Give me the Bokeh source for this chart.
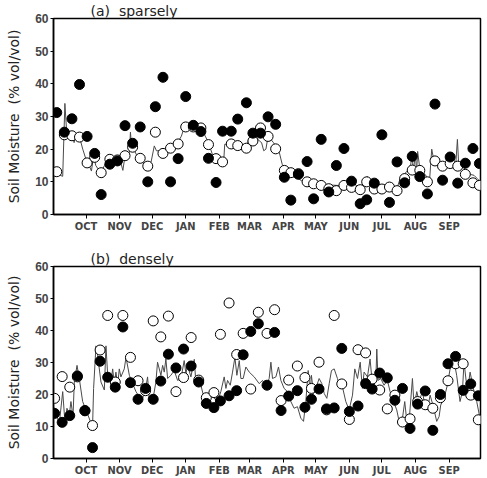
from bokeh.plotting import figure
from bokeh.layouts import column
from bokeh.models import FixedTicker, Title, Range1d
from bokeh.embed import file_html
from bokeh.resources import INLINE

# x values: days since 1 September
month_ticks = [30, 61, 91, 122, 153, 181, 212, 242, 273, 303, 334, 365]
month_labels = ["OCT", "NOV", "DEC", "JAN", "FEB", "MAR", "APR", "MAY", "JUN", "JUL", "AUG", "SEP"]

# ---------------- (a) sparsely ----------------
sp_obs_day = [3, 10, 17, 24, 31, 38, 44, 52, 59, 66, 73, 80, 87, 94, 101, 108, 115, 122, 129, 136,
              143, 150, 156, 164, 170, 178, 184, 191, 198, 205, 213, 219, 226, 234, 240, 247, 254, 261, 268, 275,
              283, 289, 296, 303, 310, 317, 324, 331, 338, 345, 352, 359, 366, 373, 380, 387, 393]
sp_filled = [31.2, 25.2, 29.3, 39.8, 23.9, 18.7, 6.1, 15.4, 16.4, 27.2, 21.8, 26.8, 10.0, 33.0, 42.0, 10.0, 17.1, 36.1, 27.3, 25.4,
             17.2, 9.8, 25.5, 25.5, 29.2, 34.2, 24.9, 24.9, 29.9, 27.6, 11.4, 4.4, 12.3, 16.2, 4.8, 23.0, 6.9, 15.0, 20.2, 10.2,
             3.3, 4.5, 9.6, 24.4, 3.7, 16.1, 9.7, 17.8, 11.6, 6.3, 33.8, 10.5, 17.6, 9.6, 15.7, 20.2, 15.6]
sp_open = [13.1, 24.4, 24.1, 23.7, 15.8, 17.5, 12.8, 16.9, 16.7, 18.0, 20.6, 17.2, 14.8, 25.2, 18.7, 20.3, 21.6, 26.8, 26.8, 26.5,
           21.4, 17.1, 16.1, 21.6, 21.1, 20.3, 22.5, 26.5, 23.9, 20.1, 13.5, 12.8, 12.5, 10.0, 9.4, 8.9, 7.9, 7.3, 8.9, 8.3,
           7.6, 10.0, 7.8, 7.8, 8.4, 7.3, 11.0, 13.6, 13.5, 10.0, 16.4, 14.8, 15.6, 14.8, 12.3, 9.7, 8.9]
sp_line_day = [0, 2, 4, 6, 8.5, 10.5, 12, 14, 16, 17, 18, 19, 20, 22, 24, 27, 31, 33, 35, 37, 39, 41, 44, 47, 50, 53, 56, 59,
               62, 64, 66, 68, 70, 71, 72, 74, 77, 80, 82, 87, 90, 93, 95, 99, 103, 106, 110, 114, 118, 121, 125, 129, 133,
               136, 140, 143, 147, 150, 155, 157, 158, 163, 166, 170, 173, 176, 179, 180, 181, 184, 187, 190, 192, 194, 196,
               198, 203, 208, 211, 214, 219, 225, 229, 234, 247, 262, 273, 276, 278, 285, 289.5, 291, 296, 304, 310, 317,
               320, 324, 327, 329.6, 331, 332, 334, 335, 336, 338, 341, 347, 349, 351, 355, 358, 364, 371, 372.7, 374, 377,
               382, 388, 391, 394]
sp_line = [13.3, 14.5, 12.5, 12.0, 11.7, 34.0, 26.0, 24.5, 25.0, 22.5, 24.0, 22.0, 24.0, 24.0, 23.7, 20.0, 15.8, 15.0, 13.3,
           18.0, 15.0, 14.0, 12.8, 15.0, 17.0, 16.5, 17.0, 16.7, 16.0, 13.5, 18.0, 17.0, 19.0, 25.2, 21.0, 20.0, 18.0, 17.2,
           16.0, 15.0, 16.0, 21.0, 19.5, 19.5, 19.3, 20.0, 21.0, 21.6, 24.0, 27.0, 27.2, 27.5, 27.0, 26.5, 24.0, 22.0, 18.0,
           17.0, 15.2, 16.0, 21.5, 21.5, 21.0, 20.0, 20.0, 19.5, 21.5, 23.0, 21.5, 23.0, 23.6, 22.5, 22.0, 19.5, 20.0, 24.0,
           22.0, 19.5, 15.4, 13.5, 11.7, 11.2, 10.3, 9.7, 9.2, 8.9, 9.0, 10.0, 8.0, 9.0, 11.7, 9.0, 8.0, 9.0, 9.0, 8.0,
           11.2, 12.5, 13.5, 15.4, 18.0, 13.0, 19.0, 12.5, 19.3, 14.0, 13.0, 10.5, 20.0, 16.5, 15.5, 14.5, 15.5, 14.5, 23.0,
           14.5, 15.5, 12.5, 12.0, 11.0, 10.0]

# ---------------- (b) densely ----------------
de_obs_day = [1, 8, 15, 22, 29, 36, 43, 50, 57, 64, 71, 78, 85, 92, 99, 106, 113, 120, 127, 134,
              141, 148, 154, 162, 169, 175, 182, 189, 197, 204, 210, 217, 225, 232, 238, 245, 252, 259, 266, 273,
              281, 288, 294, 301, 308, 315, 322, 329, 336, 343, 350, 357, 364, 371, 378, 385, 392]
de_filled = [14.1, 11.3, 13.4, 25.8, 14.9, 3.4, 30.4, 25.4, 22.3, 41.1, 23.7, 18.5, 21.9, 18.5, 24.2, 32.6, 28.3, 34.2, 28.9, 23.9,
             17.2, 15.9, 18.0, 19.6, 21.2, 32.4, 39.7, 42.1, 22.9, 39.4, 15.0, 19.5, 21.2, 16.0, 18.5, 21.7, 15.5, 15.8, 34.4, 14.7,
             16.4, 23.4, 21.7, 26.7, 25.2, 18.2, 21.9, 9.4, 17.0, 21.1, 8.8, 20.0, 29.6, 31.9, 21.3, 23.3, 19.6]
de_open = [18.8, 25.6, 22.3, 25.5, 15.0, 10.3, 33.9, 44.7, 23.9, 44.7, 31.6, 24.3, 21.2, 43.0, 38.0, 44.5, 20.9, 25.3, 37.8, 24.5,
           19.0, 20.6, 38.8, 48.6, 32.5, 39.1, 21.7, 45.7, 39.1, 46.5, 18.1, 24.5, 28.9, 25.3, 21.9, 30.1, 15.2, 44.7, 23.3, 12.2,
           34.0, 33.0, 24.8, 21.4, 15.5, 19.8, 11.4, 12.4, 17.8, 16.8, 15.7, 19.0, 24.3, 29.6, 29.6, 19.8, 12.1]
de_line_day = [0, 5.4, 8.5, 10.6, 12.4, 14.6, 16.1, 18, 19.2, 21.7, 23.8, 26.9, 30, 34, 36.1, 37, 39.2, 40.7, 43.8, 46.9,
               48.4, 50, 53, 54.6, 56.1, 57.6, 59.2, 60.7, 62.2, 65.3, 66.9, 70, 73, 76.1, 79.1, 82.2, 85.3, 86.8, 88.4,
               91.4, 94.5, 96, 99.1, 100.7, 102.2, 103.7, 105.3, 108.3, 111.4, 114.5, 117.6, 120.6, 122.2, 123.7, 126.8,
               129.9, 131, 133, 136, 139, 142.2, 145.2, 151.4, 154.4, 157.5, 159.1, 160.6, 163.1, 165.2, 167.4, 169.2,
               171.4, 172.9, 175, 177.5, 180.6, 185.2, 189.8, 192.9, 195.9, 199, 200.6, 202.1, 205.2, 207.6, 209.8, 212.8,
               215.9, 219, 222, 225.1, 228.2, 230.7, 232.8, 235, 236.8, 238, 239.9, 242, 245.1, 247.6, 249.8, 252.2, 254.4,
               256.5, 259, 262, 263.6, 266.6, 269.7, 272.8, 275.9, 278, 280.5, 283, 285, 286.6, 289.7, 292.1, 294.3, 297.4,
               298.3, 299.5, 302, 305, 308.1, 310.6, 313.7, 316.7, 318.9, 322, 324.1, 326, 328.1, 331.2, 332.7, 335.2,
               337.3, 340.4, 342.9, 345, 347.5, 350.5, 353.6, 355.8, 357.3, 360.4, 363.4, 366.5, 369, 372, 375.1, 377.3,
               378.8, 381.9, 384.4, 387.4, 390.5, 392.6, 393.6]
de_line = [16.2, 11.1, 20.9, 11.1, 15.7, 13.7, 17.8, 13.1, 23.9, 29.1, 25.0, 17.8, 15.2, 11.6, 10.6, 21.9, 35.2, 32.2, 23.9, 21.4,
           35.2, 26.0, 23.9, 28.0, 23.4, 27.0, 22.9, 28.0, 25.5, 28.0, 31.6, 26.0, 23.4, 20.9, 19.3, 18.8, 22.4, 25.5, 18.3,
           17.8, 23.9, 30.1, 26.0, 29.1, 27.0, 31.1, 25.0, 26.0, 27.5, 24.4, 25.0, 30.6, 26.5, 29.1, 25.5,
           31.0, 25.5, 24.4, 22.9, 18.8, 17.8, 19.8, 17.8, 20.9, 25.5, 21.9, 24.4, 22.9, 27.0, 31.6, 26.0,
           30.6, 25.0, 25.0, 28.6, 27.0, 25.5, 23.4, 24.4, 22.4, 25.0, 30.1, 25.0, 25.5, 28.6, 24.4, 21.9,
           20.9, 17.8, 15.7, 16.2, 12.6, 11.6, 17.8, 27.5, 20.9, 26.0, 20.3, 21.9, 25.0, 23.4, 20.3, 18.8, 23.4,
           27.5, 28.0, 25.0, 22.9, 22.4, 17.8, 15.2, 19.8, 28.0, 25.0, 30.1, 21.9, 27.0, 25.5, 31.1, 22.9, 23.9,
           34.2, 24.4, 25.0, 22.9, 24.4, 20.9, 17.8, 15.2, 11.6, 12.6, 17.8, 11.6, 11.6, 25.0, 16.2, 20.9,
           17.8, 20.9, 16.2, 15.2, 19.8, 16.2, 11.6, 13.1, 16.7, 18.8, 22.9, 29.1, 31.6, 26.0, 17.8, 20.9,
           30.1, 20.9, 27.0, 21.9, 17.8, 14.2, 11.1]

y_ticks = [0, 10, 20, 30, 40, 50, 60]
NB = "\u00a0"


def make_panel(title, line_x, line_y, obs_x, open_y, filled_y, top_border, bottom_border, fh):
    p = figure(frame_width=427, frame_height=fh, output_backend="svg", toolbar_location=None,
               x_range=Range1d(0, 394), y_range=Range1d(0, 60),
               min_border_left=53, min_border_right=7,
               min_border_top=top_border, min_border_bottom=bottom_border,
               background_fill_color="white", border_fill_color="white")
    p.grid.visible = False
    p.outline_line_color = "black"
    p.outline_line_width = 1.5

    t = Title(text=title, align="left", offset=37, text_font="DejaVu Sans",
              text_font_size="14px", text_font_style="normal", text_color="#222222", standoff=0)
    p.add_layout(t, "above")

    p.line(line_x, line_y, line_color="#4a4a4a", line_width=1)
    p.scatter(obs_x, open_y, marker="circle", size=10, fill_color="white",
              line_color="black", line_width=1)
    p.scatter(obs_x, filled_y, marker="circle", size=10, fill_color="black",
              line_color="black", line_width=1)

    xa = p.xaxis[0]
    xa.ticker = FixedTicker(ticks=month_ticks)
    xa.major_label_overrides = {t_: l for t_, l in zip(month_ticks, month_labels)}
    xa.major_label_text_font = "DejaVu Sans Condensed"
    xa.major_label_text_font_style = "bold"
    xa.major_label_text_font_size = "11px"
    xa.major_label_standoff = 1
    xa.major_tick_in = 0
    xa.major_tick_out = 4
    xa.minor_tick_line_color = None
    xa.axis_line_width = 1.5

    ya = p.yaxis[0]
    ya.ticker = FixedTicker(ticks=y_ticks)
    ya.major_label_text_font = "Liberation Sans"
    ya.major_label_text_font_style = "bold"
    ya.major_label_text_font_size = "12px"
    ya.major_label_standoff = 2
    ya.major_tick_in = 0
    ya.major_tick_out = 3
    ya.minor_tick_line_color = None
    ya.axis_line_width = 1.5
    ya.axis_label = "Soil Moisture" + NB + NB + "(% vol/vol)"
    ya.axis_label_text_font = "DejaVu Sans"
    ya.axis_label_text_font_style = "normal"
    ya.axis_label_text_font_size = "14px"
    ya.axis_label_text_color = "#222222"
    ya.axis_label_standoff = 10
    return p


p1 = make_panel("(a)" + NB + NB + "sparsely", sp_line_day, sp_line, sp_obs_day, sp_open, sp_filled, 15, 25, 196)
p2 = make_panel("(b)" + NB + NB + "densely", de_line_day, de_line, de_obs_day, de_open, de_filled, 27, 20, 192)

layout = column(p1, p2, spacing=0)
open("out.html", "w").write(file_html(layout, INLINE))
